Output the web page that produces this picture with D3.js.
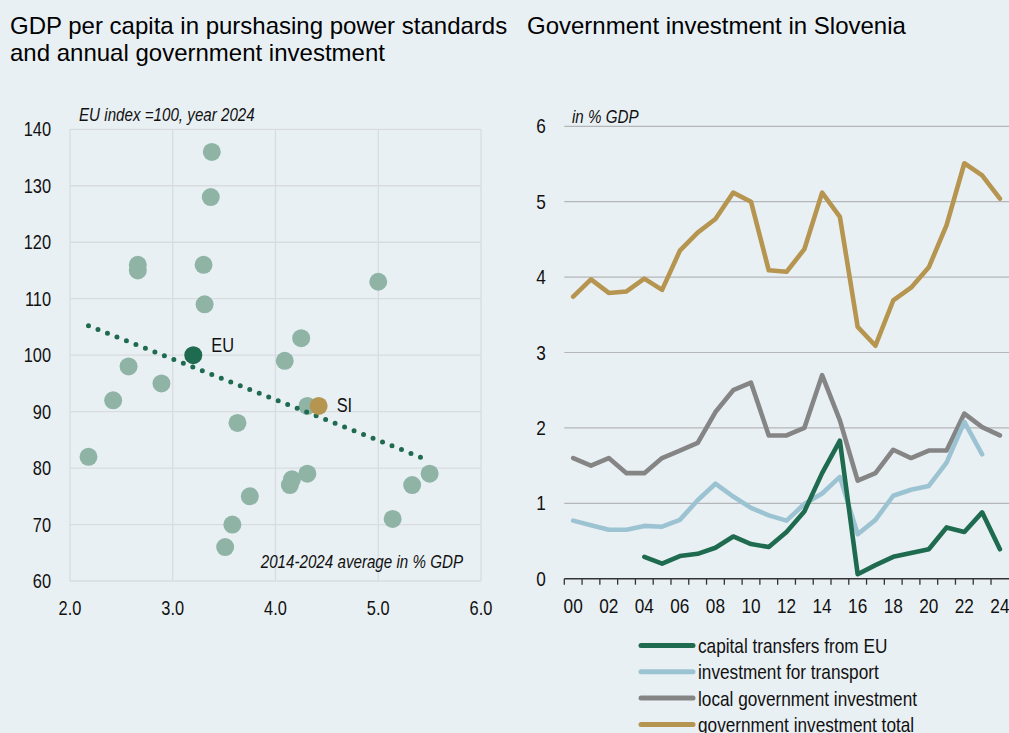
<!DOCTYPE html>
<html>
<head>
<meta charset="utf-8">
<script src="https://cdn.jsdelivr.net/npm/d3@7"></script>
<style>
  html, body { margin: 0; padding: 0; background: #e9f0f4; }
  svg { display: block; }
  .title { font-family: "Liberation Sans", Arial, sans-serif; font-size: 24px; fill: #000; }
  .nar { font-family: "Liberation Sans", Arial, sans-serif; fill: #111; }
</style>
</head>
<body>
<svg id="chart" width="1009" height="733"></svg>
<script>
// ---- Scatter: GDP per capita (PPS, EU=100, 2024) vs. avg. government investment 2014-2024 (% GDP)
const countryInvest = [3.38, 3.37, 2.66, 2.66, 3.30, 5.00, 3.31, 4.25, 4.09, 2.57, 2.89, 2.42, 4.31,
                       3.63, 2.18, 5.50, 4.31, 4.16, 4.14, 5.33, 3.75, 3.58, 5.14, 3.51];
const countryGdp    = [136, 128, 116, 115, 116, 113, 109, 103, 99, 98, 95, 92, 91,
                       88, 82, 79, 79, 78, 77, 77, 75, 70, 71, 66];
const highlightNames  = ["EU", "SI"];
const highlightInvest = [3.20, 4.42];
const highlightGdp    = [100, 91];
const trendInvest = [2.18, 5.43];
const trendGdp    = [105.2, 81.8];
const scatterXTicks = [2, 3, 4, 5, 6];
const scatterYTicks = [60, 70, 80, 90, 100, 110, 120, 130, 140];

// ---- Lines: government investment in Slovenia, % GDP
const years = d3.range(2000, 2025);
const capitalTransfersEU = [null, null, null, null, 0.29, 0.20, 0.30, 0.33, 0.41, 0.56, 0.46, 0.42, 0.62,
                            0.89, 1.40, 1.83, 0.06, 0.18, 0.29, 0.34, 0.39, 0.68, 0.62, 0.88, 0.39];
const transportInvest    = [0.77, 0.71, 0.65, 0.65, 0.70, 0.69, 0.78, 1.04, 1.26, 1.09, 0.94, 0.84, 0.77,
                            0.99, 1.13, 1.35, 0.59, 0.78, 1.10, 1.18, 1.23, 1.54, 2.08, 1.65, null];
const localGovInvest     = [1.60, 1.50, 1.60, 1.40, 1.40, 1.60, 1.70, 1.80, 2.21, 2.50, 2.60, 1.90, 1.90,
                            2.00, 2.70, 2.10, 1.30, 1.40, 1.71, 1.60, 1.70, 1.70, 2.19, 2.01, 1.90];
const totalGovInvest     = [3.74, 3.97, 3.79, 3.81, 3.98, 3.83, 4.35, 4.59, 4.77, 5.12, 5.00, 4.09, 4.07,
                            4.37, 5.12, 4.80, 3.34, 3.09, 3.69, 3.86, 4.13, 4.69, 5.51, 5.35, 5.04];
const seriesNames  = ["capital transfers from EU", "investment for transport",
                      "local government investment", "government investment total"];
const seriesColors = ["#1e6b4f", "#9cc3d1", "#858585", "#b5954f"];
const lineYTicks = [0, 1, 2, 3, 4, 5, 6];

const svg = d3.select("#chart");
const SQUEEZE = 0.82; // condensed look for axis and note labels

// place a horizontally condensed text at (x, y)
function narrowText(parent, x, y, size, str, anchor, italic) {
  return parent.append("text")
    .attr("class", "nar")
    .attr("font-size", size)
    .attr("font-style", italic ? "italic" : "normal")
    .attr("text-anchor", anchor || "start")
    .attr("transform", `translate(${x},${y}) scale(${SQUEEZE},1)`)
    .text(str);
}

// Titles
svg.append("text").attr("class", "title").attr("x", 10).attr("y", 34)
  .text("GDP per capita in purshasing power standards");
svg.append("text").attr("class", "title").attr("x", 10).attr("y", 61)
  .text("and annual government investment");
svg.append("text").attr("class", "title").attr("x", 527).attr("y", 34)
  .text("Government investment in Slovenia");

// ================= Left panel: scatter =================
const sx = d3.scaleLinear().domain([2, 6]).range([70, 481]);
const sy = d3.scaleLinear().domain([60, 140]).range([581, 129.3]);

const left = svg.append("g");
// grid
left.append("g").selectAll("line").data(scatterXTicks).join("line")
  .attr("x1", d => sx(d)).attr("x2", d => sx(d))
  .attr("y1", sy(60)).attr("y2", sy(140))
  .attr("stroke", "#d9dcdf").attr("stroke-width", 1.3);
left.append("g").selectAll("line").data(scatterYTicks).join("line")
  .attr("x1", sx(2)).attr("x2", sx(6))
  .attr("y1", d => sy(d)).attr("y2", d => sy(d))
  .attr("stroke", "#d9dcdf").attr("stroke-width", 1.3);

// axis labels
scatterXTicks.forEach(d => narrowText(left, sx(d), 615, 20, d3.format(".1f")(d), "middle"));
scatterYTicks.forEach(d => narrowText(left, 51, sy(d) + 7, 20, String(d), "end"));

narrowText(left, 79, 120.5, 18.5, "EU index =100, year 2024", "start", true);
narrowText(left, 463, 568, 18.5, "2014-2024 average in % GDP", "end", true);

// countries
left.append("g").selectAll("circle").data(countryInvest).join("circle")
  .attr("cx", d => sx(d)).attr("cy", (d, i) => sy(countryGdp[i]))
  .attr("r", 9).attr("fill", "#8fb4a6");

// trend line (dotted)
left.append("line")
  .attr("x1", sx(trendInvest[0])).attr("y1", sy(trendGdp[0]))
  .attr("x2", sx(trendInvest[1])).attr("y2", sy(trendGdp[1]))
  .attr("stroke", "#1e6b4f").attr("stroke-width", 5)
  .attr("stroke-linecap", "round").attr("stroke-dasharray", "0 10.2");

// highlighted points
const hlColors = ["#1e6b4f", "#b5954f"];
left.append("g").selectAll("circle").data(highlightInvest).join("circle")
  .attr("cx", d => sx(d)).attr("cy", (d, i) => sy(highlightGdp[i]))
  .attr("r", 9).attr("fill", (d, i) => hlColors[i]);
highlightNames.forEach((name, i) => {
  narrowText(left, sx(highlightInvest[i]) + 18,
             sy(highlightGdp[i]) + (i === 1 ? 6 : -3), 20, name, "start");
});

// ================= Right panel: lines =================
const lx = d3.scaleBand().domain(years).range([564.3, 1008.8]).padding(0);
const ly = d3.scaleLinear().domain([0, 6]).range([578.7, 126.3]);
const cx = d => lx(d) + lx.bandwidth() / 2;

const right = svg.append("g");
right.append("g").selectAll("line").data(lineYTicks.filter(d => d > 0)).join("line")
  .attr("x1", 564.3).attr("x2", 1009)
  .attr("y1", d => ly(d)).attr("y2", d => ly(d))
  .attr("stroke", "#b4b6b8").attr("stroke-width", 1.2);

lineYTicks.forEach(d => narrowText(right, 541, ly(d) + 7, 21, String(d), "middle"));

narrowText(right, 572, 123, 18.5, "in % GDP", "start", true);

const seriesData = [totalGovInvest, localGovInvest, transportInvest, capitalTransfersEU];
const seriesIdx = [3, 2, 1, 0];
const line = d3.line()
  .defined(d => d.v !== null)
  .x(d => cx(d.year)).y(d => ly(d.v));
seriesData.forEach((vals, k) => {
  right.append("path")
    .datum(years.map((y, i) => ({ year: y, v: vals[i] })))
    .attr("d", line)
    .attr("fill", "none")
    .attr("stroke", seriesColors[seriesIdx[k]])
    .attr("stroke-width", 4.6)
    .attr("stroke-linejoin", "round")
    .attr("stroke-linecap", "round");
});

// x axis
right.append("line").attr("x1", 564.3).attr("x2", 1009)
  .attr("y1", ly(0)).attr("y2", ly(0)).attr("stroke", "#333").attr("stroke-width", 1.5);
right.append("g").selectAll("line").data(years).join("line")
  .attr("x1", d => lx(d)).attr("x2", d => lx(d))
  .attr("y1", ly(0)).attr("y2", ly(0) + 6)
  .attr("stroke", "#333").attr("stroke-width", 1.3);
years.filter(y => y % 2 === 0).forEach(d =>
  narrowText(right, cx(d), 612.5, 21, String(d % 100).padStart(2, "0"), "middle"));

// legend
const legend = right.append("g");
seriesNames.forEach((name, i) => {
  const yy = 645.5 + i * 26.3;
  legend.append("line").attr("x1", 641).attr("x2", 693).attr("y1", yy).attr("y2", yy)
    .attr("stroke", seriesColors[i]).attr("stroke-width", 5).attr("stroke-linecap", "round");
  narrowText(legend, 698, yy + 7.5, 21, name, "start");
});
</script>
</body>
</html>
